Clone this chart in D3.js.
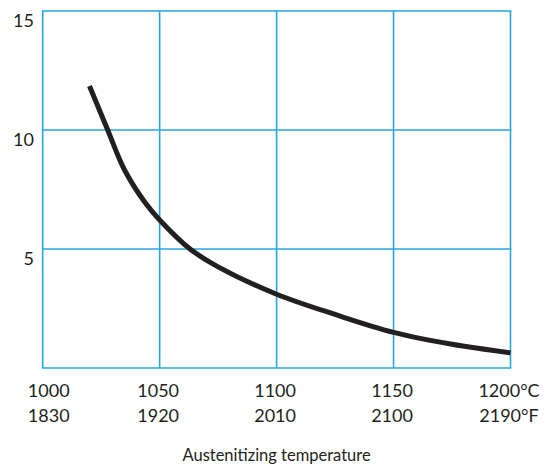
<!DOCTYPE html>
<html>
<head>
<meta charset="utf-8">
<script src="https://cdn.jsdelivr.net/npm/d3@7"></script>
<style>
html,body{margin:0;padding:0;background:#fff;}
svg{display:block;}
text{font-family:Lato,"Open Sans",sans-serif;fill:#231f20;}
</style>
</head>
<body>
<div id="chart"></div>
<script>
// Data
const tempC = [1020, 1028, 1035, 1044, 1050, 1063, 1075, 1100, 1125, 1150, 1175, 1200];
const values = [11.85, 9.95, 8.32, 6.92, 6.22, 5.0, 4.25, 3.1, 2.25, 1.5, 1.0, 0.64];
const xTicksC = [1000, 1050, 1100, 1150, 1200];
const xLabelsC = ["1000", "1050", "1100", "1150", "1200°C"];
const xLabelsF = ["1830", "1920", "2010", "2100", "2190°F"];
const yTicks = [5, 10, 15];
const yGrid = [0, 5, 10, 15];
const xTitle = "Austenitizing temperature";

const W = 552, H = 466;
const margin = {left: 42.7, right: 41.5, top: 11, bottom: 98};
const svg = d3.select("#chart").append("svg").attr("width", W).attr("height", H);

const x = d3.scaleLinear().domain([1000, 1200]).range([margin.left, W - margin.right]);
const y = d3.scaleLinear().domain([0, 15]).range([H - margin.bottom, margin.top]);

const gridColor = "#27a6de";
const g = svg.append("g");

// vertical grid lines
g.selectAll("line.vg").data(xTicksC).enter().append("line")
  .attr("x1", d => x(d)).attr("x2", d => x(d))
  .attr("y1", y(15)).attr("y2", y(0))
  .attr("stroke", gridColor).attr("stroke-width", 1.6);
// horizontal grid lines
g.selectAll("line.hg").data(yGrid).enter().append("line")
  .attr("x1", x(1000) - 0.8).attr("x2", x(1200) + 0.8)
  .attr("y1", d => y(d)).attr("y2", d => y(d))
  .attr("stroke", gridColor).attr("stroke-width", 1.6);

// y labels
svg.selectAll("text.yl").data(yTicks).enter().append("text")
  .attr("x", 34).attr("y", d => y(d) + 15.5)
  .attr("text-anchor", "end").attr("font-size", 18)
  .text(d => d);

// x labels
const xl = svg.append("g");
xl.selectAll("text.c").data(xTicksC).enter().append("text")
  .attr("x", (d, i) => x(d) + (i === 0 ? 6 : -1.5)).attr("y", 397)
  .attr("text-anchor", "middle").attr("font-size", 18)
  .text((d, i) => xLabelsC[i]);
xl.selectAll("text.f").data(xTicksC).enter().append("text")
  .attr("x", (d, i) => x(d) + (i === 0 ? 6 : -1.5)).attr("y", 422)
  .attr("text-anchor", "middle").attr("font-size", 18)
  .text((d, i) => xLabelsF[i]);

svg.append("text").attr("x", (x(1000) + x(1200)) / 2).attr("y", 461)
  .attr("text-anchor", "middle").attr("font-size", 16.5).text(xTitle);

// curve
const pts = tempC.map((t, i) => [t, values[i]]);
const line = d3.line().x(d => x(d[0])).y(d => y(d[1])).curve(d3.curveCatmullRom.alpha(0.5));
svg.append("path").datum(pts).attr("d", line)
  .attr("fill", "none").attr("stroke", "#231f20").attr("stroke-width", 5);
</script>
</body>
</html>
